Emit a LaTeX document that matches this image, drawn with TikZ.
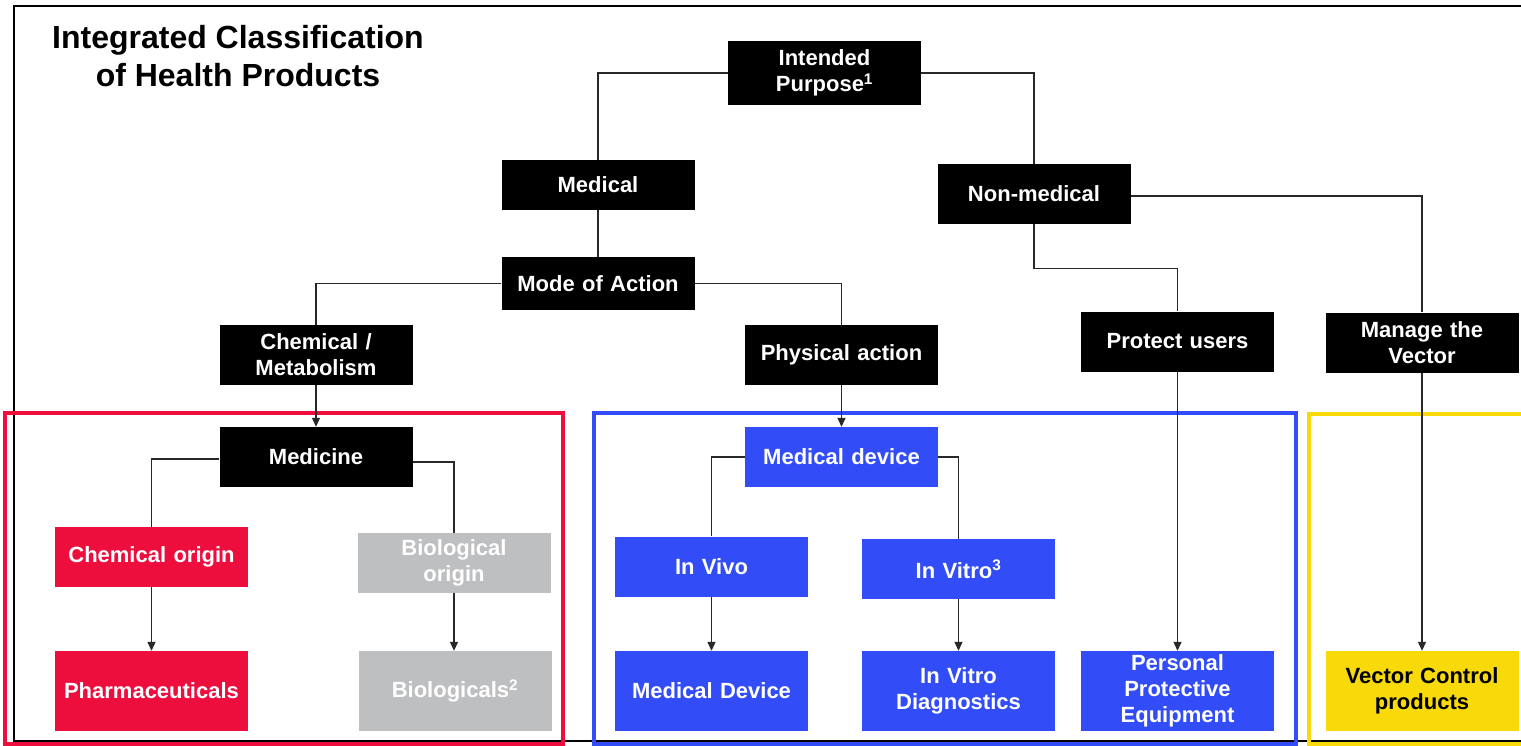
\documentclass[tikz,border=0pt]{standalone}
\usepackage{fontspec}
\setmainfont{Liberation Sans}
\usetikzlibrary{arrows.meta}
\definecolor{ured}{RGB}{237,14,62}
\definecolor{ugray}{RGB}{190,191,193}
\definecolor{ublue}{RGB}{50,77,248}
\definecolor{uyellow}{RGB}{248,217,10}
\definecolor{uline}{RGB}{40,40,40}
\tikzset{
  hbox/.style={rectangle, inner sep=0pt, minimum width=193pt, minimum height=60pt,
    text width=190pt, align=center, text=white,
    font=\fontsize{22}{26}\selectfont\bfseries},
  blackbox/.style={hbox, fill=black},
  redbox/.style={hbox, fill=ured},
  graybox/.style={hbox, fill=ugray},
  bluebox/.style={hbox, fill=ublue},
  yellowbox/.style={hbox, fill=uyellow, text=black},
  link/.style={draw=uline, line width=1.2pt},
  arrowlink/.style={link, -{Triangle[length=9pt,width=8pt]}},
  groupframe/.style={line width=4.5pt}
}
\begin{document}
\begin{tikzpicture}[x=1pt,y=-1pt]
\useasboundingbox (0,0) rectangle (1521,746);
\clip (0,0) rectangle (1521,746);
\fill[white] (0,0) rectangle (1521,746);
% outer frame
\draw[line width=2.2pt, black] (14,6) rectangle (1560,741);
% group frames
\draw[groupframe, draw=ured] (5,413) rectangle (563,744);
\draw[groupframe, draw=ublue] (594,413) rectangle (1296,744);
\draw[groupframe, draw=uyellow] (1309,414) rectangle (1560,744);
% title
\node[font=\fontsize{32}{38}\selectfont\bfseries, align=center] (title) at (238,56)
  {Integrated Classification\\of Health Products};
% nodes
\node[blackbox, minimum height=64pt] (ip) at (824.5,73) {Intended\\Purpose\textsuperscript{1}};
\node[blackbox, minimum height=50pt] (medical) at (598,185) {Medical};
\node[blackbox] (nonmed) at (1034,194) {Non-medical};
\node[blackbox, minimum height=53pt] (moa) at (598,283.5) {Mode of Action};
\node[blackbox] (chem) at (316,355) {Chemical /\\Metabolism};
\node[blackbox] (phys) at (841.5,355) {Physical action};
\node[blackbox] (prot) at (1177.5,341.5) {Protect users};
\node[blackbox] (mgr) at (1422,342.5) {Manage the\\Vector};
\node[blackbox] (medi) at (316,457) {Medicine};
\node[bluebox] (mdev) at (841.5,457) {Medical device};
\node[redbox] (chemo) at (151.5,557) {Chemical origin};
\node[graybox] (bioo) at (454,563) {Biological\\origin};
\node[bluebox] (invivo) at (711.5,566.5) {In Vivo};
\node[bluebox] (invitro) at (958.5,569) {In Vitro\textsuperscript{3}};
\node[redbox, minimum height=80pt] (pharma) at (151.5,691) {Pharmaceuticals};
\node[graybox, minimum height=80pt] (bio) at (455,691) {Biologicals\textsuperscript{2}};
\node[bluebox, minimum height=80pt] (md) at (711.5,691) {Medical Device};
\node[bluebox, minimum height=80pt] (ivd) at (958.5,691) {In Vitro\\Diagnostics};
\node[bluebox, minimum height=80pt] (ppe) at (1177.5,691) {Personal\\Protective\\Equipment};
\node[yellowbox, minimum height=80pt] (vc) at (1422,691) {Vector Control\\products};
% connectors
\draw[link] (ip.west) -| (medical.north);
\draw[link] (ip.east) -| (nonmed.north);
\draw[link] (medical.south) -- (moa.north);
\draw[link] (moa.west) -| (chem.north);
\draw[link] (moa.east) -| (phys.north);
\draw[link] (nonmed.south) -- ++(0,44) coordinate (nm1) -| (prot.north);
\draw[link] ([yshift=-2pt]nonmed.east) -| (mgr.north);
\draw[arrowlink] (chem.south) -- (medi.north);
\draw[arrowlink] (phys.south) -- (mdev.north);
\draw[link] ([yshift=-2pt]medi.west) -| (chemo.north);
\draw[link] ([yshift=-5pt]medi.east) -| (bioo.north);
\draw[arrowlink] (chemo.south) -- (pharma.north);
\draw[arrowlink] (bioo.south) -- (bioo.south |- bio.north);
\draw[link] (mdev.west) -| (invivo.north);
\draw[link] (mdev.east) -| (invitro.north);
\draw[arrowlink] (invivo.south) -- (md.north);
\draw[arrowlink] (invitro.south) -- (ivd.north);
\draw[arrowlink] (prot.south) -- (ppe.north);
\draw[arrowlink] (mgr.south) -- (vc.north);
\end{tikzpicture}
\end{document}
